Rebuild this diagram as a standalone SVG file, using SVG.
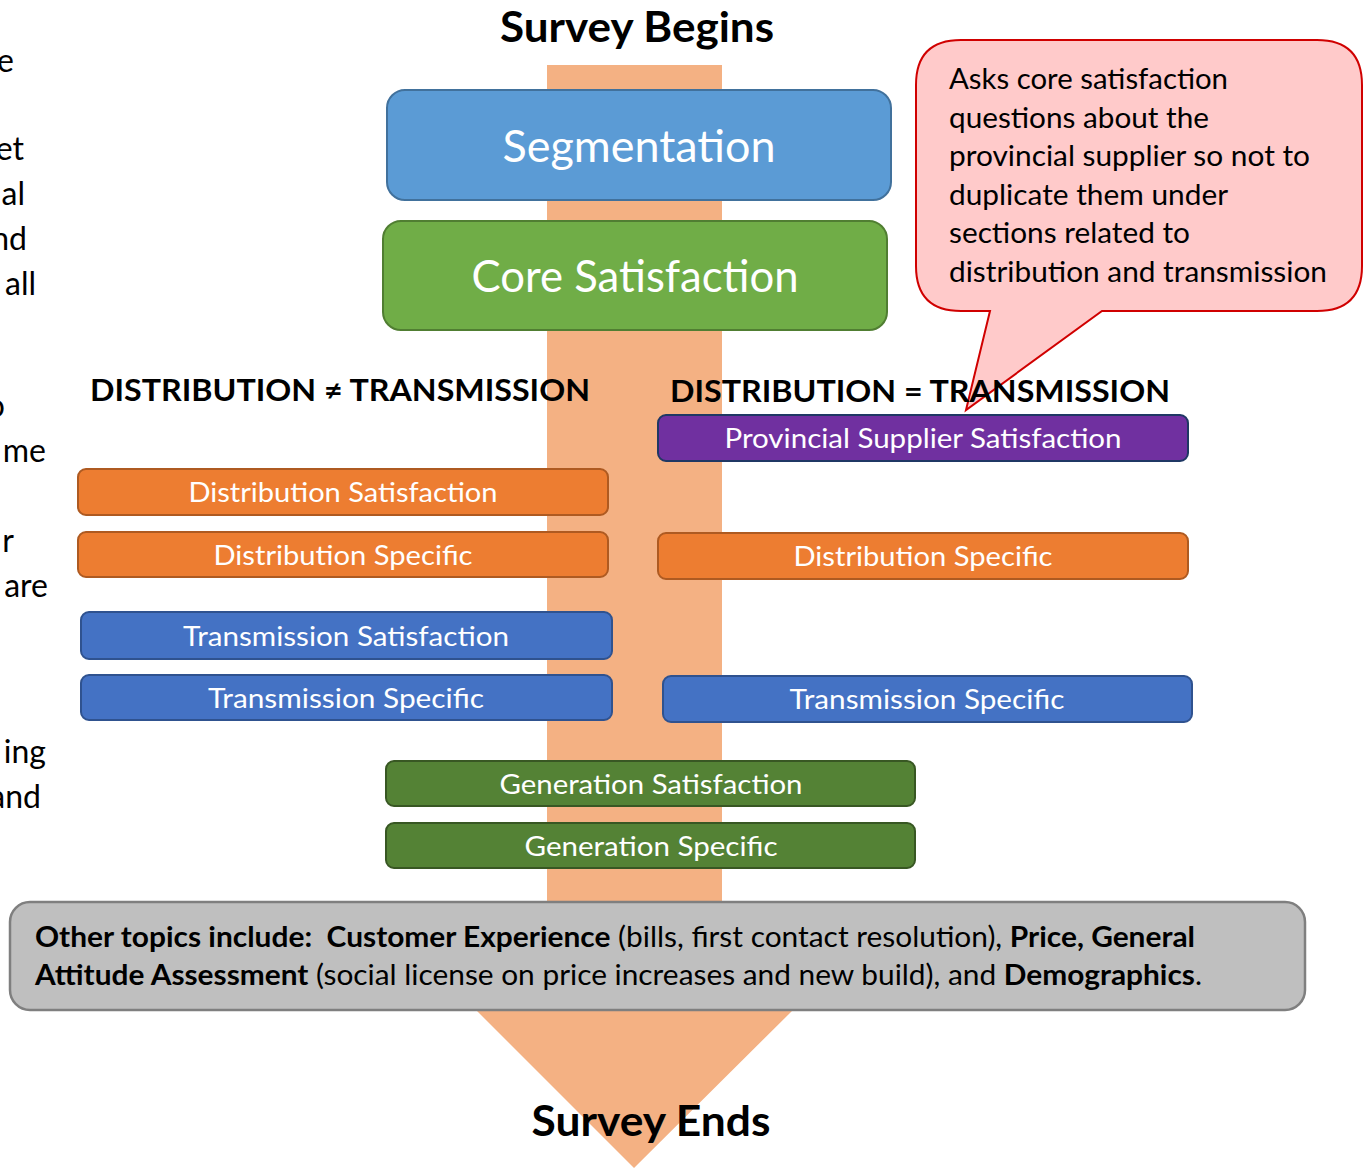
<svg xmlns="http://www.w3.org/2000/svg" width="1365" height="1168" viewBox="0 0 1365 1168">
  <style>
    text { font-family: Lato, "Liberation Sans", sans-serif; }
    .title { font-size: 42px; font-weight: bold; fill: #000; text-anchor: middle; }
    .head { font-size: 30px; font-weight: bold; fill: #000; }
    .big { font-size: 45px; fill: #fff; text-anchor: middle; }
    .lbl { font-size: 27px; fill: #fff; text-anchor: middle; }
    .side { font-size: 32px; fill: #000; text-anchor: end; }
    .note { font-size: 28px; fill: #000; }
    .b { font-weight: bold; }
    .bar { stroke-width: 2; }
    .orange { fill: #ED7D31; stroke: #AE5A21; }
    .blue { fill: #4472C4; stroke: #2F528F; }
    .green { fill: #548235; stroke: #385723; }
    .purple { fill: #7030A0; stroke: #1F3864; }
  </style>

  <!-- paragraph running off the left edge -->
  <g id="side-text">
    <text class="side" x="14" y="72">e</text>
    <text class="side" x="24" y="160">et</text>
    <text class="side" x="25" y="205">al</text>
    <text class="side" x="27" y="250">nd</text>
    <text class="side" x="36" y="295">all</text>
    <text class="side" x="5" y="417">o</text>
    <text class="side" x="46" y="462">me</text>
    <text class="side" x="14" y="552">r</text>
    <text class="side" x="48" y="597">are</text>
    <text class="side" x="46" y="763">ing</text>
    <text class="side" x="41" y="808">and</text>
  </g>

  <!-- flow arrow behind everything -->
  <g id="connectors">
    <polygon points="547,65 722,65 722,1010 793,1010 634,1168 476,1010 547,1010" fill="#F4B183"/>
  </g>

  <g id="survey-begins">
    <text class="title" x="637" y="42" textLength="274" lengthAdjust="spacingAndGlyphs">Survey Begins</text>
  </g>

  <g id="segmentation">
    <rect x="387" y="90" width="504" height="110" rx="18" fill="#5B9BD5" stroke="#41719C" stroke-width="2"/>
    <text class="big" x="639" y="162" textLength="273" lengthAdjust="spacingAndGlyphs">Segmentation</text>
  </g>

  <g id="core-satisfaction">
    <rect x="383" y="221" width="504" height="109" rx="18" fill="#70AD47" stroke="#507E32" stroke-width="2"/>
    <text class="big" x="635" y="292" textLength="327" lengthAdjust="spacingAndGlyphs">Core Satisfaction</text>
  </g>

  <g id="heading-not-equal">
    <text class="head" x="90" y="401" textLength="500" lengthAdjust="spacingAndGlyphs">DISTRIBUTION ≠ TRANSMISSION</text>
  </g>

  <g id="callout">
    <path d="M961,40 H1317 Q1362,40 1362,85 V266 Q1362,311 1317,311 H1102 L966,410 L990,311 H961 Q916,311 916,266 V85 Q916,40 961,40 Z" fill="#FFCACA" stroke="#D00000" stroke-width="2"/>
    <text class="note" x="949" y="89" textLength="279" lengthAdjust="spacingAndGlyphs">Asks core satisfaction</text>
    <text class="note" x="949" y="128" textLength="260" lengthAdjust="spacingAndGlyphs">questions about the</text>
    <text class="note" x="949" y="166" textLength="361" lengthAdjust="spacingAndGlyphs">provincial supplier so not to</text>
    <text class="note" x="949" y="205" textLength="279" lengthAdjust="spacingAndGlyphs">duplicate them under</text>
    <text class="note" x="949" y="243" textLength="241" lengthAdjust="spacingAndGlyphs">sections related to</text>
    <text class="note" x="949" y="282" textLength="378" lengthAdjust="spacingAndGlyphs">distribution and transmission</text>
  </g>

  <g id="heading-equal">
    <text class="head" x="670" y="402" textLength="500" lengthAdjust="spacingAndGlyphs">DISTRIBUTION = TRANSMISSION</text>
  </g>

  <g id="distribution-satisfaction">
    <rect class="orange bar" x="78" y="469" width="530" height="46" rx="8"/>
    <text class="lbl" x="343" y="502" textLength="309" lengthAdjust="spacingAndGlyphs">Distribution Satisfaction</text>
  </g>

  <g id="distribution-specific-left">
    <rect class="orange bar" x="78" y="532" width="530" height="45" rx="8"/>
    <text class="lbl" x="343" y="565" textLength="259" lengthAdjust="spacingAndGlyphs">Distribution Specific</text>
  </g>

  <g id="transmission-satisfaction">
    <rect class="blue bar" x="81" y="612" width="531" height="47" rx="8"/>
    <text class="lbl" x="346" y="646" textLength="326" lengthAdjust="spacingAndGlyphs">Transmission Satisfaction</text>
  </g>

  <g id="transmission-specific-left">
    <rect class="blue bar" x="81" y="675" width="531" height="45" rx="8"/>
    <text class="lbl" x="346" y="708" textLength="276" lengthAdjust="spacingAndGlyphs">Transmission Specific</text>
  </g>

  <g id="provincial-supplier-satisfaction">
    <rect class="purple bar" x="658" y="415" width="530" height="46" rx="8"/>
    <text class="lbl" x="923" y="448" textLength="397" lengthAdjust="spacingAndGlyphs">Provincial Supplier Satisfaction</text>
  </g>

  <g id="distribution-specific-right">
    <rect class="orange bar" x="658" y="533" width="530" height="46" rx="8"/>
    <text class="lbl" x="923" y="566" textLength="259" lengthAdjust="spacingAndGlyphs">Distribution Specific</text>
  </g>

  <g id="transmission-specific-right">
    <rect class="blue bar" x="663" y="676" width="529" height="46" rx="8"/>
    <text class="lbl" x="927" y="709" textLength="275" lengthAdjust="spacingAndGlyphs">Transmission Specific</text>
  </g>

  <g id="generation-satisfaction">
    <rect class="green bar" x="386" y="761" width="529" height="45" rx="8"/>
    <text class="lbl" x="651" y="794" textLength="303" lengthAdjust="spacingAndGlyphs">Generation Satisfaction</text>
  </g>

  <g id="generation-specific">
    <rect class="green bar" x="386" y="823" width="529" height="45" rx="8"/>
    <text class="lbl" x="651" y="856" textLength="253" lengthAdjust="spacingAndGlyphs">Generation Specific</text>
  </g>

  <g id="other-topics">
    <rect x="10" y="902" width="1295" height="108" rx="20" fill="#BFBFBF" stroke="#7F7F7F" stroke-width="2.5"/>
    <text class="note" x="35" y="947" textLength="1160" lengthAdjust="spacingAndGlyphs"><tspan class="b">Other topics include:&#160; Customer Experience</tspan> (bills, first contact resolution), <tspan class="b">Price, General</tspan></text>
    <text class="note" x="35" y="985" textLength="1167" lengthAdjust="spacingAndGlyphs"><tspan class="b">Attitude Assessment</tspan> (social license on price increases and new build), and <tspan class="b">Demographics</tspan>.</text>
  </g>

  <g id="survey-ends">
    <text class="title" x="651" y="1136" textLength="239" lengthAdjust="spacingAndGlyphs">Survey Ends</text>
  </g>
</svg>
